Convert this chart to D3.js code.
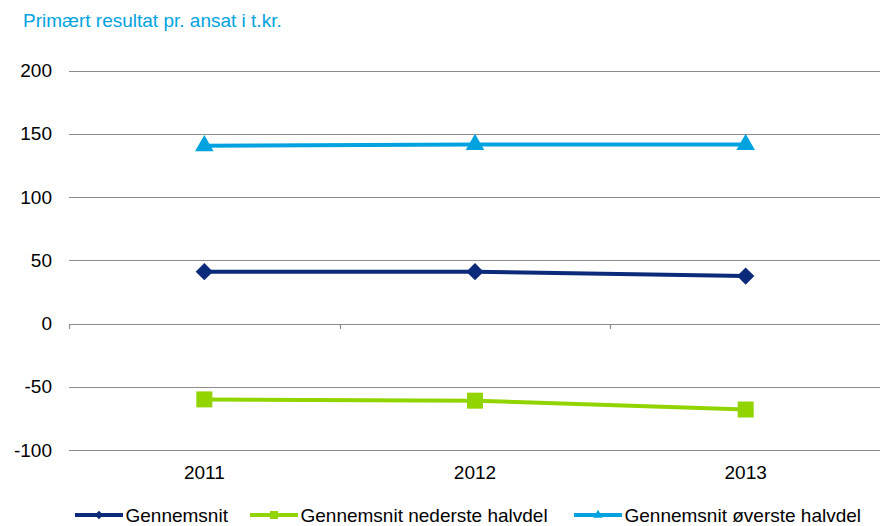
<!DOCTYPE html>
<html>
<head>
<meta charset="utf-8">
<script src="https://cdn.jsdelivr.net/npm/d3@7"></script>
<style>
	body { margin: 0; background: white; }
	svg text { font-family: "Liberation Sans", Arial, sans-serif; }
</style>
</head>
<body>
<div class="chart"></div>
<script>
const years = ["2011", "2012", "2013"]
const yTicks = [-100, -50, 0, 50, 100, 150, 200]
const seriesNames = ["Gennemsnit", "Gennemsnit nederste halvdel", "Gennemsnit øverste halvdel"]
const gennemsnit = [41, 41, 37.5]
const nederste = [-60, -61, -68]
const overste = [140.5, 141.5, 141.5]
const colors = ["#0b2a7a", "#92d400", "#00a3e0"]

let width = 880
let height = 526

let svg = d3.select(".chart")
	.append("svg")
	.attr("width", width)
	.attr("height", height)

// title
svg.append("text")
	.attr("x", 23)
	.attr("y", 26.5)
	.attr("fill", "#00a3e0")
	.style("font-size", "19px")
	.text("Primært resultat pr. ansat i t.kr.")

let x = d3.scaleBand().domain(years).range([69, 881])
let y = d3.scaleLinear().domain([-100, 200]).range([450, 70.5])

// gridlines
svg.append("g")
	.selectAll("line")
	.data(yTicks)
	.join("line")
	.attr("x1", 69)
	.attr("x2", 881)
	.attr("y1", d => Math.round(y(d)) + 0.5)
	.attr("y2", d => Math.round(y(d)) + 0.5)
	.attr("stroke", "#8c8c8c")
	.attr("stroke-width", 1.2)

// y labels
svg.append("g")
	.selectAll("text")
	.data(yTicks)
	.join("text")
	.attr("x", 52)
	.attr("y", d => y(d) + 6.5)
	.attr("text-anchor", "end")
	.style("font-size", "19px")
	.attr("fill", "#000")
	.text(d => d)

// category ticks on zero line
let tickX = [69].concat(years.slice(1).map(d => x(d)))
svg.append("g")
	.selectAll("line")
	.data(tickX)
	.join("line")
	.attr("x1", d => Math.round(d) + 0.5)
	.attr("x2", d => Math.round(d) + 0.5)
	.attr("y1", Math.round(y(0)))
	.attr("y2", Math.round(y(0)) + 5)
	.attr("stroke", "#8c8c8c")
	.attr("stroke-width", 1.2)

// x labels
svg.append("g")
	.selectAll("text")
	.data(years)
	.join("text")
	.attr("x", d => x(d) + x.bandwidth() / 2)
	.attr("y", 479)
	.attr("text-anchor", "middle")
	.style("font-size", "19px")
	.text(d => d)

// marker shapes
function marker(k, big) {
	let s = big ? 1 : 0.5
	if (k == 0) return d3.symbol().type(d3.symbolSquare).size(150 * s * s)()
	if (k == 1) return d3.symbol().type(d3.symbolSquare).size(256 * s * s)()
	return d3.symbol().type(d3.symbolTriangle).size(150 * s * s)()
}

let allSeries = [gennemsnit, nederste, overste]
let line = d3.line()
	.x((d, i) => x(years[i]) + x.bandwidth() / 2)
	.y(d => y(d))

allSeries.forEach(function (vals, k) {
	svg.append("path")
		.attr("d", line(vals))
		.attr("fill", "none")
		.attr("stroke", colors[k])
		.attr("stroke-width", 4)

	svg.append("g")
		.selectAll("path")
		.data(vals)
		.join("path")
		.attr("transform", (d, i) => `translate(${x(years[i]) + x.bandwidth() / 2},${y(d)})` + (k == 0 ? " rotate(45)" : ""))
		.attr("d", marker(k, true))
		.attr("fill", colors[k])
})

// legend
let legendX = [75, 250, 574]
seriesNames.forEach(function (name, k) {
	let g = svg.append("g").attr("transform", `translate(${legendX[k]},515)`)
	g.append("line")
		.attr("x1", 0)
		.attr("x2", 48)
		.attr("stroke", colors[k])
		.attr("stroke-width", 4)
	g.append("path")
		.attr("transform", "translate(24,0)" + (k == 0 ? " rotate(45)" : ""))
		.attr("d", marker(k, false))
		.attr("fill", colors[k])
	g.append("text")
		.attr("x", 50.5)
		.attr("y", 6.5)
		.style("font-size", "19px")
		.text(name)
})
</script>
</body>
</html>
